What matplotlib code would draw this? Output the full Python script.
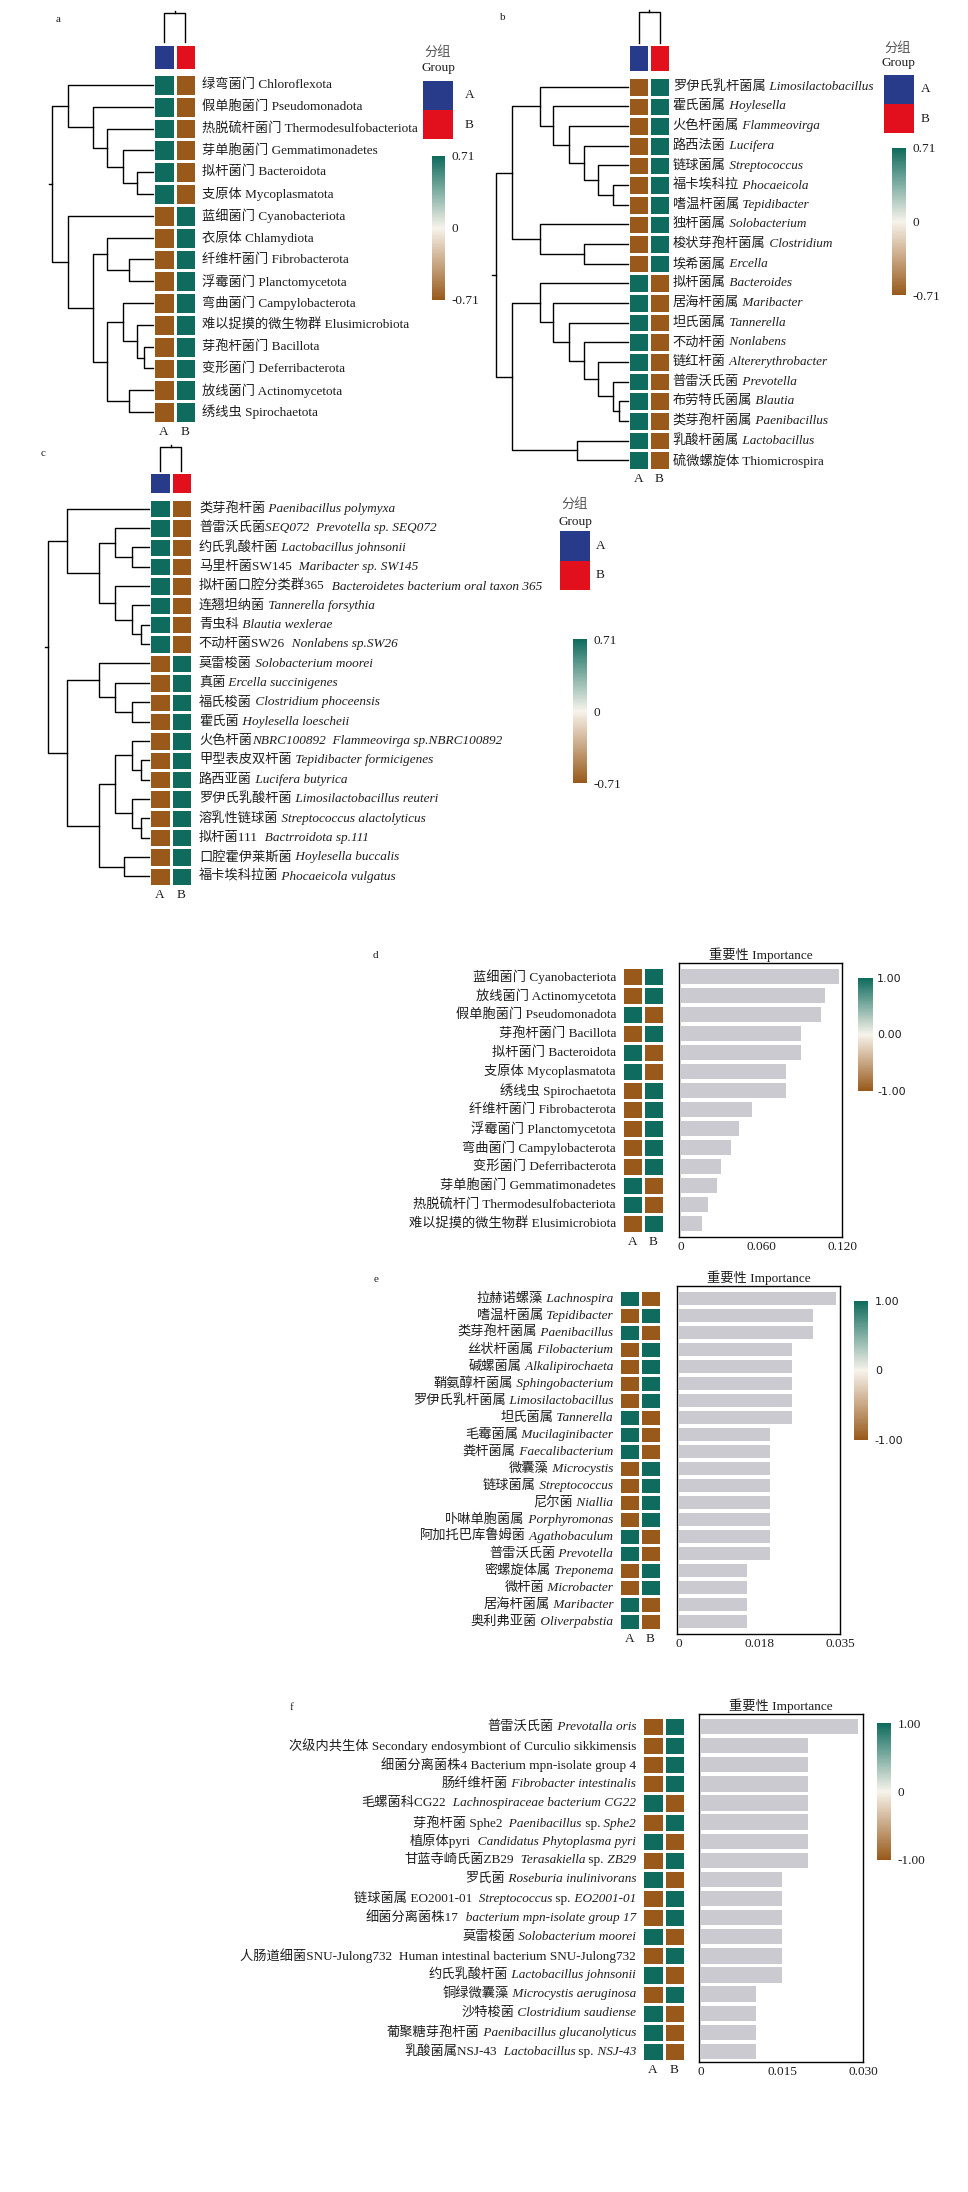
import numpy as np
import matplotlib
matplotlib.use("Agg")
import matplotlib.pyplot as plt
from matplotlib.colors import LinearSegmentedColormap, ListedColormap, Normalize
from matplotlib.cm import ScalarMappable
from matplotlib.offsetbox import TextArea, HPacker, AnnotationBbox

FONT = ['Liberation Serif', 'Noto Sans CJK SC']
plt.rcParams['font.family'] = FONT
plt.rcParams['axes.unicode_minus'] = False

W, H = 968, 2192
FS = 9.5
INK = '#1e1e1e'
TEAL, BROWN = '#0e6b5d', '#98591a'
heat_cmap = LinearSegmentedColormap.from_list('brown_teal', [BROWN, '#f7f3eb', TEAL])
group_cmap = ListedColormap(['#273b8a', '#e2101d'])
BAR_COLOR = '#cacad0'

groups = ['A', 'B']
col_tree = (1.0, 0, 1)

# ---------------- a: phylum heatmap ----------------
labels_a = ["绿弯菌门 Chloroflexota", "假单胞菌门 Pseudomonadota", "热脱硫杆菌门 Thermodesulfobacteriota",
            "芽单胞菌门 Gemmatimonadetes", "拟杆菌门 Bacteroidota", "支原体 Mycoplasmatota",
            "蓝细菌门 Cyanobacteriota", "衣原体 Chlamydiota", "纤维杆菌门 Fibrobacterota",
            "浮霉菌门 Planctomycetota", "弯曲菌门 Campylobacterota", "难以捉摸的微生物群 Elusimicrobiota",
            "芽孢杆菌门 Bacillota", "变形菌门 Deferribacterota", "放线菌门 Actinomycetota", "绣线虫 Spirochaetota"]
z_a = [0.71, 0.71, 0.71, 0.71, 0.71, 0.71, -0.71, -0.71, -0.71, -0.71,
       -0.71, -0.71, -0.71, -0.71, -0.71, -0.71]
tree_a = (1.0, (0.84, 0, (0.59, 1, (0.46, 2, (0.30, 3, (0.16, 4, 5))))),
          (0.84, 6, (0.59, (0.46, 7, (0.24, 8, 9)),
                     (0.46, (0.30, 10, (0.16, 11, (0.09, 12, 13))), (0.24, 14, 15)))))

# ---------------- b: genus heatmap ----------------
labels_b = ["罗伊氏乳杆菌属 *Limosilactobacillus*", "霍氏菌属 *Hoylesella*", "火色杆菌属 *Flammeovirga*",
            "路西法菌 *Lucifera*", "链球菌属 *Streptococcus*", "福卡埃科拉 *Phocaeicola*",
            "嗜温杆菌属 *Tepidibacter*", "独杆菌属 *Solobacterium*", "梭状芽孢杆菌属 *Clostridium*",
            "埃希菌属 *Ercella*", "拟杆菌属 *Bacteroides*", "居海杆菌属 *Maribacter*",
            "坦氏菌属 *Tannerella*", "不动杆菌 *Nonlabens*", "链红杆菌 *Altererythrobacter*",
            "普雷沃氏菌 *Prevotella*", "布劳特氏菌属 *Blautia*", "类芽孢杆菌属 *Paenibacillus*",
            "乳酸杆菌属 *Lactobacillus*", "硫微螺旋体 Thiomicrospira"]
z_b = [-0.71, -0.71, -0.71, -0.71, -0.71, -0.71, -0.71, -0.71, -0.71, -0.71,
       0.71, 0.71, 0.71, 0.71, 0.71, 0.71, 0.71, 0.71, 0.71, 0.71]
tree_b = (1.0,
          (0.88, (0.67, 0, (0.57, 1, (0.45, 2, (0.33, 3, (0.23, 4, (0.11, 5, 6)))))),
           (0.67, 7, (0.33, 8, 9))),
          (0.88, (0.67, 10, (0.57, 11, (0.45, 12, (0.33, 13, (0.23, 14, (0.11, 15, (0.07, 16, 17))))))),
           (0.39, 18, 19)))

# ---------------- c: species heatmap ----------------
labels_c = ["类芽孢杆菌 *Paenibacillus polymyxa*", "普雷沃氏菌*SEQ072  Prevotella sp. SEQ072*",
            "约氏乳酸杆菌 *Lactobacillus johnsonii*", "马里杆菌SW145  *Maribacter sp. SW145*",
            "拟杆菌口腔分类群365  *Bacteroidetes bacterium oral taxon 365*", "连翘坦纳菌 *Tannerella forsythia*",
            "青虫科 *Blautia wexlerae*", "不动杆菌SW26  *Nonlabens sp.SW26*", "莫雷梭菌 *Solobacterium moorei*",
            "真菌 *Ercella succinigenes*", "福氏梭菌 *Clostridium phoceensis*", "霍氏菌 *Hoylesella loescheii*",
            "火色杆菌*NBRC100892  Flammeovirga sp.NBRC100892*", "甲型表皮双杆菌 *Tepidibacter formicigenes*",
            "路西亚菌 *Lucifera butyrica*", "罗伊氏乳酸杆菌 *Limosilactobacillus reuteri*",
            "溶乳性链球菌 *Streptococcus alactolyticus*", "拟杆菌111  *Bactrroidota sp.111*",
            "口腔霍伊莱斯菌 *Hoylesella buccalis*", "福卡埃科拉菌 *Phocaeicola vulgatus*"]
z_c = [0.71, 0.71, 0.71, 0.71, 0.71, 0.71, 0.71, 0.71, -0.71, -0.71,
       -0.71, -0.71, -0.71, -0.71, -0.71, -0.71, -0.71, -0.71, -0.71, -0.71]
tree_c = (1.0,
          (0.81, 0, (0.50, (0.34, 1, (0.17, 2, 3)), (0.34, 4, (0.17, 5, (0.08, 6, 7))))),
          (0.81, (0.50, 8, (0.34, 9, (0.17, 10, 11))),
           (0.50, (0.34, (0.17, 12, (0.08, 13, 14)), (0.17, 15, (0.08, 16, 17))), (0.25, 18, 19))))

# ---------------- d: phylum importance ----------------
labels_d = ["蓝细菌门 Cyanobacteriota", "放线菌门 Actinomycetota", "假单胞菌门 Pseudomonadota",
            "芽孢杆菌门 Bacillota", "拟杆菌门 Bacteroidota", "支原体 Mycoplasmatota", "绣线虫 Spirochaetota",
            "纤维杆菌门 Fibrobacterota", "浮霉菌门 Planctomycetota", "弯曲菌门 Campylobacterota",
            "变形菌门 Deferribacterota", "芽单胞菌门 Gemmatimonadetes", "热脱硫杆门 Thermodesulfobacteriota",
            "难以捉摸的微生物群 Elusimicrobiota"]
z_d = [-1, -1, 1, -1, 1, 1, -1, -1, -1, -1, -1, 1, 1, -1]
imp_d = [0.1178, 0.1072, 0.1042, 0.0894, 0.0894, 0.0785, 0.0785, 0.0531, 0.0435, 0.0370,
         0.0301, 0.0272, 0.0205, 0.0156]

# ---------------- e: genus importance ----------------
labels_e = ["拉赫诺螺藻 *Lachnospira*", "嗜温杆菌属 *Tepidibacter*", "类芽孢杆菌属 *Paenibacillus*",
            "丝状杆菌属 *Filobacterium*", "碱螺菌属 *Alkalipirochaeta*", "鞘氨醇杆菌属 *Sphingobacterium*",
            "罗伊氏乳杆菌属 *Limosilactobacillus*", "坦氏菌属 *Tannerella*", "毛霉菌属 *Mucilaginibacter*",
            "粪杆菌属 *Faecalibacterium*", "微囊藻 *Microcystis*", "链球菌属 *Streptococcus*", "尼尔菌 *Niallia*",
            "卟啉单胞菌属 *Porphyromonas*", "阿加托巴库鲁姆菌 *Agathobaculum*", "普雷沃氏菌 *Prevotella*",
            "密螺旋体属 *Treponema*", "微杆菌 *Microbacter*", "居海杆菌属 *Maribacter*", "奥利弗亚菌 *Oliverpabstia*"]
z_e = [1, -1, 1, -1, -1, -1, -1, 1, 1, 1, -1, -1, -1, -1, 1, 1, -1, -1, 1, 1]
imp_e = [0.0341, 0.0292, 0.0292, 0.0245, 0.0245, 0.0245, 0.0245, 0.0245, 0.0197, 0.0197,
         0.0197, 0.0197, 0.0197, 0.0197, 0.0197, 0.0197, 0.0148, 0.0148, 0.0148, 0.0148]

# ---------------- f: species importance ----------------
labels_f = ["普雷沃氏菌 *Prevotalla oris*", "次级内共生体 Secondary endosymbiont of Curculio sikkimensis",
            "细菌分离菌株4 Bacterium mpn-isolate group 4", "肠纤维杆菌 *Fibrobacter intestinalis*",
            "毛螺菌科CG22  *Lachnospiraceae bacterium CG22*", "芽孢杆菌 Sphe2  *Paenibacillus* sp. *Sphe2*",
            "植原体pyri  *Candidatus Phytoplasma pyri*", "甘蓝寺崎氏菌ZB29  *Terasakiella* sp. *ZB29*",
            "罗氏菌 *Roseburia inulinivorans*", "链球菌属 EO2001-01  *Streptococcus* sp. *EO2001-01*",
            "细菌分离菌株17  *bacterium mpn-isolate group 17*", "莫雷梭菌 *Solobacterium moorei*",
            "人肠道细菌SNU-Julong732  Human intestinal bacterium SNU-Julong732",
            "约氏乳酸杆菌 *Lactobacillus johnsonii*", "铜绿微囊藻 *Microcystis aeruginosa*",
            "沙特梭菌 *Clostridium saudiense*", "葡聚糖芽孢杆菌 *Paenibacillus glucanolyticus*",
            "乳酸菌属NSJ-43  *Lactobacillus* sp. *NSJ-43*"]
z_f = [-1, -1, -1, -1, 1, -1, 1, -1, 1, -1, -1, 1, -1, 1, -1, 1, 1, 1]
imp_f = [0.0291, 0.0198, 0.0198, 0.0198, 0.0198, 0.0198, 0.0198, 0.0198, 0.0150, 0.0150,
         0.0150, 0.0150, 0.0150, 0.0150, 0.0102, 0.0102, 0.0102, 0.0102]


fig = plt.figure(figsize=(W / 100, H / 100), dpi=100)


def px_ax(x0, y0, x1, y1):
    return fig.add_axes([x0 / W, 1 - y1 / H, (x1 - x0) / W, (y1 - y0) / H])


def fig_text(x, y, s, ha='center', va='center', **kw):
    kw.setdefault('fontsize', FS)
    kw.setdefault('color', INK)
    return fig.text(x / W, 1 - y / H, s, ha=ha, va=va, **kw)


def segments(label):
    # text between * * is italic; spaces go to the start of the next piece
    segs, carry = [], ''
    for k, p in enumerate(label.split('*')):
        p = carry + p
        core = p.rstrip(' ')
        carry = p[len(core):]
        if core:
            segs.append((core, 'italic' if k % 2 else 'normal'))
    return segs


def put_label(ax, label, row, side, gap):
    boxes = [TextArea(s, textprops=dict(fontsize=FS, style=st, color=INK, family=FONT))
             for s, st in segments(label)]
    pack = HPacker(children=boxes, align='baseline', pad=0, sep=0)
    if side == 'right':
        xy, off, al = (1, row), (gap, 0), (0, 0.5)
    else:
        xy, off, al = (0, row), (-gap, 0), (1, 0.5)
    ab = AnnotationBbox(pack, xy, xycoords=('axes fraction', 'data'), xybox=off,
                        boxcoords='offset points', box_alignment=al, frameon=False,
                        pad=0, annotation_clip=False)
    ax.add_artist(ab)


def draw_tree(ax, node, vertical=False):
    if isinstance(node, int):
        return node, 0.0
    h, left, right = node
    pl, hl = draw_tree(ax, left, vertical)
    pr, hr = draw_tree(ax, right, vertical)
    hs, ps = [hl, h, h, hr], [pl, pl, pr, pr]
    if vertical:
        ax.plot(ps, hs, color='black', lw=1.0, clip_on=False)
    else:
        ax.plot(hs, ps, color='black', lw=1.0, clip_on=False)
    return (pl + pr) / 2, h


def heatmap(rect, z, vmax):
    ax = px_ax(*rect)
    a = np.asarray(z, float)
    n = len(a)
    ax.pcolormesh(np.arange(-0.5, 2), np.arange(-0.5, n), np.column_stack([a, -a]),
                  cmap=heat_cmap, vmin=-vmax, vmax=vmax, edgecolors='white', linewidth=1.0)
    ax.set_xlim(-0.5, 1.5)
    ax.set_ylim(n - 0.5, -0.5)
    ax.set_xticks([0, 1], groups)
    ax.set_yticks([])
    ax.tick_params(length=0, pad=2, labelsize=FS, labelcolor=INK)
    for s in ax.spines.values():
        s.set_visible(False)
    return ax


def colorbar(rect, vmax, ticklabels, family, fs, pad):
    cax = px_ax(*rect)
    sm = ScalarMappable(norm=Normalize(-vmax, vmax), cmap=heat_cmap)
    cb = fig.colorbar(sm, cax=cax, ticks=[vmax, 0, -vmax])
    cb.set_ticklabels(ticklabels, fontsize=fs, family=family, color=INK)
    cb.outline.set_visible(False)
    cax.tick_params(length=0, pad=pad)


def group_legend(cx, y_zh, y_en, box, gap):
    fig_text(cx, y_zh, '分组', color='#555555')
    fig_text(cx, y_en, 'Group')
    lax = px_ax(*box)
    lax.pcolormesh([0, 1], [-0.5, 0.5, 1.5], [[0], [1]], cmap=group_cmap, vmin=0, vmax=1)
    lax.set_xlim(0, 1)
    lax.set_ylim(1.5, -0.5)
    lax.axis('off')
    for k, g in enumerate(groups):
        lax.annotate(g, (1, k), xycoords=('axes fraction', 'data'), xytext=(gap, 0),
                     textcoords='offset pixels', ha='left', va='center', fontsize=FS, color=INK)


def cluster_panel(letter, letter_xy, labels, z, tree, hm, bar_y, top_y, root_x, gap,
                  legend, cbar):
    n = len(labels)
    fig_text(*letter_xy, letter, fontsize=8)
    ax = heatmap(hm, z, 0.71)
    for i, lab in enumerate(labels):
        put_label(ax, lab, i, 'right', gap)
    # group colour strip
    gax = px_ax(hm[0], bar_y[0], hm[2], bar_y[1])
    gax.pcolormesh(np.arange(-0.5, 2), [0, 1], [[0, 1]], cmap=group_cmap, vmin=0, vmax=1,
                   edgecolors='white', linewidth=0.8)
    gax.axis('off')
    # column dendrogram
    span = top_y[1] - top_y[0]
    tax = px_ax(hm[0], top_y[0] - 0.12 * span, hm[2], top_y[1])
    pos, h = draw_tree(tax, col_tree, vertical=True)
    tax.plot([pos, pos], [h, h + 0.08], color='black', lw=1.0)
    tax.set_xlim(-0.5, 1.5)
    tax.set_ylim(0, 1.12)
    tax.axis('off')
    # row dendrogram
    span = hm[0] - root_x
    dax = px_ax(root_x - 0.04 * span, hm[1], hm[0], hm[3])
    pos, h = draw_tree(dax, tree)
    dax.plot([h, h + 0.03], [pos, pos], color='black', lw=1.0)
    dax.set_xlim(1.04, 0)
    dax.set_ylim(n - 0.5, -0.5)
    dax.axis('off')
    group_legend(*legend)
    colorbar(cbar, 0.71, ['0.71', '0', '-0.71'], FONT, FS, 5)


def importance_panel(letter, letter_xy, labels, z, imp, hm, bar_rect, xmax, xticks, xticklabels,
                     cbar, cb_labels, cb_family, cb_fs, cb_pad):
    n = len(labels)
    fig_text(*letter_xy, letter, fontsize=8)
    ax = heatmap(hm, z, 1.0)
    for i, lab in enumerate(labels):
        put_label(ax, lab, i, 'left', 4.3)
    bx = px_ax(*bar_rect)
    bx.barh(np.arange(n), imp, height=0.8, color=BAR_COLOR)
    row_h = (hm[3] - hm[1]) / n
    bx.set_ylim(n - 0.5 + (bar_rect[3] - hm[3]) / row_h, -0.5 - (hm[1] - bar_rect[1]) / row_h)
    bx.set_xlim(-0.012 * xmax, xmax)
    bx.set_xticks(xticks, xticklabels)
    bx.set_yticks([])
    bx.tick_params(length=0, pad=3, labelsize=FS, labelcolor=INK)
    for s in bx.spines.values():
        s.set_linewidth(1.0)
        s.set_color('black')
    bx.set_title('重要性 Importance', fontsize=FS, pad=3, color=INK)
    colorbar(cbar, 1.0, cb_labels, cb_family, cb_fs, cb_pad)


cluster_panel('a', (58, 20), labels_a, z_a, tree_a, (153, 74, 196, 423), (44, 70), (13, 42), 52, 4.3,
              (438, 52, 68, (423, 81, 453, 139), 12), (432, 156, 445, 300))
cluster_panel('b', (503, 17), labels_b, z_b, tree_b, (628, 77, 670, 470), (44, 72), (12, 43), 496, 2.0,
              (898, 48, 63, (884, 75, 914, 133), 7), (892, 148, 906, 295))
cluster_panel('c', (43, 453), labels_c, z_c, tree_c, (149, 499, 192, 886), (472, 494), (447, 471), 48, 5.0,
              (575, 504, 522, (560, 531, 590, 590), 6), (573, 639, 587, 783))

importance_panel('d', (375, 956), labels_d, z_d, imp_d, (622, 967, 664, 1233), (679, 963, 842, 1237),
                 0.12, [0, 0.06, 0.12], ['0', '0.060', '0.120'],
                 (858, 978, 873, 1091), ['1.00', '0.00', '-1.00'], 'DejaVu Sans', 8, 3)
importance_panel('e', (376, 1280), labels_e, z_e, imp_e, (619, 1290, 661, 1630), (677, 1286, 840, 1634),
                 0.035, [0, 0.0175, 0.035], ['0', '0.018', '0.035'],
                 (854, 1301, 868, 1440), ['1.00', '0', '-1.00'], 'DejaVu Sans', 8, 5)
importance_panel('f', (292, 1707), labels_f, z_f, imp_f, (642, 1717, 685, 2061), (699, 1714, 863, 2062),
                 0.030, [0, 0.015, 0.030], ['0', '0.015', '0.030'],
                 (877, 1723, 891, 1860), ['1.00', '0', '-1.00'], FONT, FS, 5)

fig.savefig('out.png', dpi=100, facecolor='white')
